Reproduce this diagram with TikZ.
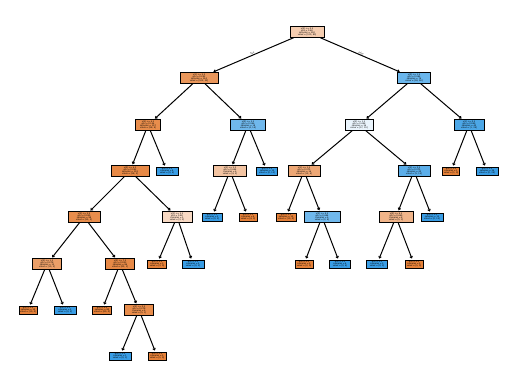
\documentclass[tikz,border=0pt]{standalone}
\usepackage{fontspec}
\setmainfont{DejaVu Sans}
\usepackage{xcolor}
\usepackage{tikz}
\usetikzlibrary{arrows.meta}

\definecolor{org}{HTML}{E58139}
\definecolor{blu}{HTML}{399DE5}
\definecolor{peach}{HTML}{F5CDB0}
\definecolor{peachL}{HTML}{F8D9C3}
\definecolor{peachM}{HTML}{F3C4A2}
\definecolor{orgA}{HTML}{EA975B}
\definecolor{orgB}{HTML}{E88D4C}
\definecolor{orgC}{HTML}{E78946}
\definecolor{orgD}{HTML}{EDA775}
\definecolor{orgE}{HTML}{F0B489}
\definecolor{orgF}{HTML}{EB9F68}
\definecolor{bluA}{HTML}{6AB6EC}
\definecolor{bluB}{HTML}{70B8EC}
\definecolor{bluC}{HTML}{EAF4FC}
\definecolor{bluD}{HTML}{4CA7E7}
\definecolor{bluE}{HTML}{5CAEE9}

\begin{document}
\begin{tikzpicture}[x=1pt,y=-1pt,font=\fontsize{2.1}{2.1}\selectfont,
 nd/.style={draw,line width=0.95pt,align=center,inner sep=0.3pt,minimum height=10.5pt,minimum width=#1},
 lf/.style={nd=#1,minimum height=8pt},
 ar/.style={-{Straight Barb[length=1.6pt,width=2.6pt]},line width=1pt,shorten >=1pt},
 tf/.style={midway,above,sloped,inner sep=0.5pt}]
\useasboundingbox (0,0) rectangle (515,389);
% depth 0-2
\node[nd=34pt,fill=peach] (n0) at (307,32) {x[3] <= 0.5\\ gini = 0.48\\ samples = 200\\ value = [120, 80]};
\node[nd=38pt,fill=orgA] (n1) at (199,78) {x[1] <= 2.5\\ gini = 0.292\\ samples = 124\\ value = [102, 22]};
\node[nd=33pt,fill=bluA] (n2) at (414,78) {x[0] <= 1.5\\ gini = 0.362\\ samples = 76\\ value = [18, 58]};
\node[nd=25pt,fill=orgB] (n3) at (148,125) {x[2] <= 4.5\\ gini = 0.154\\ samples = 107\\ value = [98, 9]};
\node[nd=35pt,fill=bluB] (n4) at (248,125) {x[0] <= 3.5\\ gini = 0.346\\ samples = 18\\ value = [4, 14]};
\node[nd=28pt,fill=bluC] (n5) at (359,125) {x[2] <= 1.5\\ gini = 0.498\\ samples = 36\\ value = [17, 19]};
\node[nd=30pt,fill=bluD] (n6) at (469,125) {x[1] <= 0.5\\ gini = 0.049\\ samples = 40\\ value = [1, 39]};
% depth 3
\node[nd=38pt,fill=orgC] (n7) at (130,171) {x[0] <= 6.5\\ gini = 0.092\\ samples = 103\\ value = [98, 5]};
\node[lf=22pt,fill=blu] (n8) at (167,171) {gini = 0.0\\ samples = 4\\ value = [0, 4]};
\node[nd=33pt,fill=peachM] (n9) at (230,171) {x[3] <= 2.5\\ gini = 0.444\\ samples = 6\\ value = [4, 2]};
\node[lf=21pt,fill=blu] (n10) at (267,171) {gini = 0.0\\ samples = 12\\ value = [0, 12]};
\node[nd=32pt,fill=orgD] (n11) at (304,171) {x[1] <= 1.5\\ gini = 0.375\\ samples = 16\\ value = [12, 4]};
\node[nd=32pt,fill=bluE] (n12) at (414,171) {x[2] <= 3.5\\ gini = 0.375\\ samples = 20\\ value = [5, 15]};
\node[lf=17pt,fill=org] (n13) at (451,171) {gini = 0.0\\ samples = 1\\ value = [1, 0]};
\node[lf=22pt,fill=blu] (n14) at (487,171) {gini = 0.0\\ samples = 39\\ value = [0, 39]};
% depth 4
\node[nd=32pt,fill=orgB] (n15) at (84,217) {x[2] <= 2.5\\ gini = 0.059\\ samples = 98\\ value = [95, 3]};
\node[nd=30pt,fill=peachL] (n16) at (177,217) {x[1] <= 5.5\\ gini = 0.48\\ samples = 5\\ value = [3, 2]};
\node[lf=20pt,fill=blu] (n17) at (212,217) {gini = 0.0\\ samples = 2\\ value = [0, 2]};
\node[lf=18pt,fill=org] (n18) at (248,217) {gini = 0.0\\ samples = 4\\ value = [4, 0]};
\node[lf=20pt,fill=org] (n19) at (286,217) {gini = 0.0\\ samples = 10\\ value = [10, 0]};
\node[nd=36pt,fill=bluB] (n20) at (322,217) {x[3] <= 4.5\\ gini = 0.444\\ samples = 6\\ value = [2, 4]};
\node[nd=34pt,fill=orgE] (n21) at (396,217) {x[0] <= 4.5\\ gini = 0.469\\ samples = 8\\ value = [5, 3]};
\node[lf=22pt,fill=blu] (n22) at (432,217) {gini = 0.0\\ samples = 12\\ value = [0, 12]};
% depth 5
\node[nd=29pt,fill=orgF] (n23) at (47,264) {x[3] <= 1.5\\ gini = 0.278\\ samples = 12\\ value = [10, 2]};
\node[nd=29pt,fill=orgC] (n24) at (120,264) {x[0] <= 7.5\\ gini = 0.023\\ samples = 86\\ value = [85, 1]};
\node[lf=19pt,fill=org] (n25) at (157,264) {gini = 0.0\\ samples = 3\\ value = [3, 0]};
\node[lf=22pt,fill=blu] (n26) at (193,264) {gini = 0.0\\ samples = 2\\ value = [0, 2]};
\node[lf=18pt,fill=org] (n27) at (304,264) {gini = 0.0\\ samples = 2\\ value = [2, 0]};
\node[lf=21pt,fill=blu] (n28) at (340,264) {gini = 0.0\\ samples = 4\\ value = [0, 4]};
\node[lf=21pt,fill=blu] (n29) at (377,264) {gini = 0.0\\ samples = 3\\ value = [0, 3]};
\node[lf=18pt,fill=org] (n30) at (414,264) {gini = 0.0\\ samples = 5\\ value = [5, 0]};
% depth 6-7
\node[lf=18pt,fill=org] (n31) at (28,310) {gini = 0.0\\ samples = 10\\ value = [10, 0]};
\node[lf=22pt,fill=blu] (n32) at (65,310) {gini = 0.0\\ samples = 2\\ value = [0, 2]};
\node[lf=19pt,fill=org] (n33) at (102,310) {gini = 0.0\\ samples = 80\\ value = [80, 0]};
\node[nd=29pt,fill=orgB] (n34) at (139,310) {x[2] <= 0.5\\ gini = 0.278\\ samples = 6\\ value = [5, 1]};
\node[lf=22pt,fill=blu] (n35) at (120,356) {gini = 0.0\\ samples = 1\\ value = [0, 1]};
\node[lf=18pt,fill=org] (n36) at (157,356) {gini = 0.0\\ samples = 5\\ value = [5, 0]};
% edges
\draw[ar] (n0)--(n1) node[tf]{True}; \draw[ar] (n0)--(n2) node[tf]{False};
\draw[ar] (n1)--(n3); \draw[ar] (n1)--(n4); \draw[ar] (n2)--(n5); \draw[ar] (n2)--(n6);
\draw[ar] (n3)--(n7); \draw[ar] (n3)--(n8); \draw[ar] (n4)--(n9); \draw[ar] (n4)--(n10);
\draw[ar] (n5)--(n11); \draw[ar] (n5)--(n12); \draw[ar] (n6)--(n13); \draw[ar] (n6)--(n14);
\draw[ar] (n7)--(n15); \draw[ar] (n7)--(n16); \draw[ar] (n9)--(n17); \draw[ar] (n9)--(n18);
\draw[ar] (n11)--(n19); \draw[ar] (n11)--(n20); \draw[ar] (n12)--(n21); \draw[ar] (n12)--(n22);
\draw[ar] (n15)--(n23); \draw[ar] (n15)--(n24); \draw[ar] (n16)--(n25); \draw[ar] (n16)--(n26);
\draw[ar] (n20)--(n27); \draw[ar] (n20)--(n28); \draw[ar] (n21)--(n29); \draw[ar] (n21)--(n30);
\draw[ar] (n23)--(n31); \draw[ar] (n23)--(n32); \draw[ar] (n24)--(n33); \draw[ar] (n24)--(n34);
\draw[ar] (n34)--(n35); \draw[ar] (n34)--(n36);
\end{tikzpicture}
\end{document}
